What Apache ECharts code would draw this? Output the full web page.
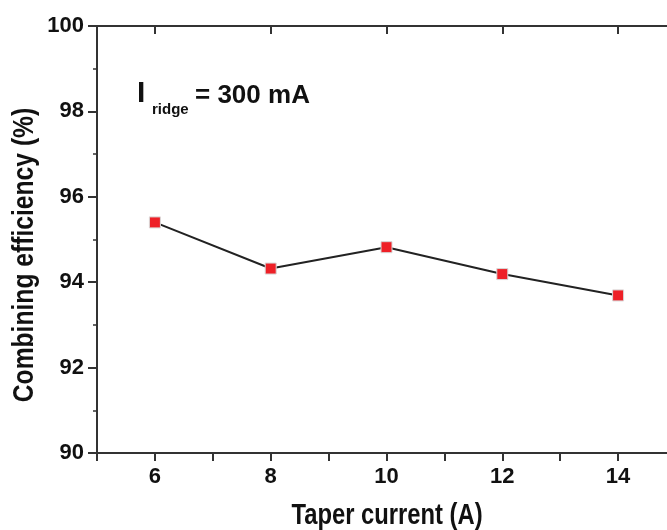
<!DOCTYPE html>
<html>
<head>
<meta charset="utf-8">
<script src="https://cdn.jsdelivr.net/npm/echarts@6/dist/echarts.min.js"></script>
<style>
  html, body { margin: 0; padding: 0; background: #fff; }
  #chart { width: 667px; height: 530px; }
</style>
</head>
<body>
<div id="chart"></div>
<script>
// taper current (A) vs combining efficiency (%)
var taperCurrent = [6, 8, 10, 12, 14]
var efficiency = [95.40, 94.32, 94.82, 94.19, 93.69]
var xTickLabels = [6, 8, 10, 12, 14]

var font = "'Liberation Sans', Arial, sans-serif"
var axisColor = '#333'
var textColor = '#111'

var chart = echarts.init(document.getElementById('chart'))

var points = []
for (var i = 0; i < taperCurrent.length; i++) {
  points.push([taperCurrent[i], efficiency[i]])
}

chart.setOption({
  backgroundColor: '#fff',
  animation: false,
  grid: {
    left: 97,
    top: 26,
    width: 579,
    height: 427,
    outerBoundsMode: 'none',
    containLabel: false
  },
  xAxis: [{
    type: 'value',
    min: 5,
    max: 15,
    interval: 1,
    axisLine: { show: true, lineStyle: { color: axisColor, width: 2 } },
    axisTick: { show: true, inside: false, length: 8, lineStyle: { color: axisColor, width: 2 } },
    splitLine: { show: false },
    axisLabel: {
      customValues: xTickLabels,
      margin: 13,
      fontFamily: font,
      fontWeight: 'bold',
      fontSize: 22,
      color: textColor
    }
  }, {
    type: 'value',
    position: 'top',
    min: 5,
    max: 15,
    interval: 1,
    axisLine: { show: true, lineStyle: { color: axisColor, width: 2 } },
    axisTick: { show: true, inside: true, length: 8, customValues: xTickLabels, lineStyle: { color: axisColor, width: 2 } },
    splitLine: { show: false },
    axisLabel: { show: false }
  }],
  yAxis: [{
    type: 'value',
    min: 90,
    max: 100,
    interval: 2,
    axisLine: { show: true, lineStyle: { color: axisColor, width: 2 } },
    axisTick: { show: true, inside: false, length: 9, lineStyle: { color: axisColor, width: 2 } },
    minorTick: { show: true, splitNumber: 2, length: 4, lineStyle: { color: axisColor, width: 1.5 } },
    splitLine: { show: false },
    axisLabel: {
      margin: 13,
      fontFamily: font,
      fontWeight: 'bold',
      fontSize: 22,
      color: textColor
    }
  }, {
    type: 'value',
    position: 'right',
    min: 90,
    max: 100,
    interval: 2,
    axisLine: { show: true, lineStyle: { color: axisColor, width: 2 } },
    axisTick: { show: true, inside: true, length: 8, lineStyle: { color: axisColor, width: 2 } },
    splitLine: { show: false },
    axisLabel: { show: false }
  }],
  graphic: [{
    // axis titles, drawn condensed like the original
    type: 'text',
    x: 387,
    y: 516,
    scaleX: 0.82,
    style: { text: 'Taper current (A)', align: 'center', verticalAlign: 'middle', fontFamily: font, fontWeight: 'bold', fontSize: 29, fill: textColor }
  }, {
    type: 'text',
    x: 25,
    y: 255,
    rotation: Math.PI / 2,
    scaleX: 0.85,
    style: { text: 'Combining efficiency (%)', align: 'center', verticalAlign: 'middle', fontFamily: font, fontWeight: 'bold', fontSize: 29, fill: textColor }
  }, {
    type: 'text',
    x: 137,
    y: 94,
    style: { text: 'I', verticalAlign: 'middle', fontFamily: font, fontWeight: 'bold', fontSize: 30, fill: textColor }
  }, {
    type: 'text',
    x: 152,
    y: 110,
    style: { text: 'ridge', verticalAlign: 'middle', fontFamily: font, fontWeight: 'bold', fontSize: 15, fill: textColor }
  }, {
    type: 'text',
    x: 195,
    y: 96,
    style: { text: '= 300 mA', verticalAlign: 'middle', fontFamily: font, fontWeight: 'bold', fontSize: 26, fill: textColor }
  }],
  series: [{
    type: 'line',
    data: points,
    symbol: 'rect',
    symbolSize: 11,
    itemStyle: {
      color: '#ee2027',
      borderColor: '#d8d8d8',
      borderWidth: 1
    },
    lineStyle: { color: '#222', width: 2 },
    z: 3
  }]
})
</script>
</body>
</html>
